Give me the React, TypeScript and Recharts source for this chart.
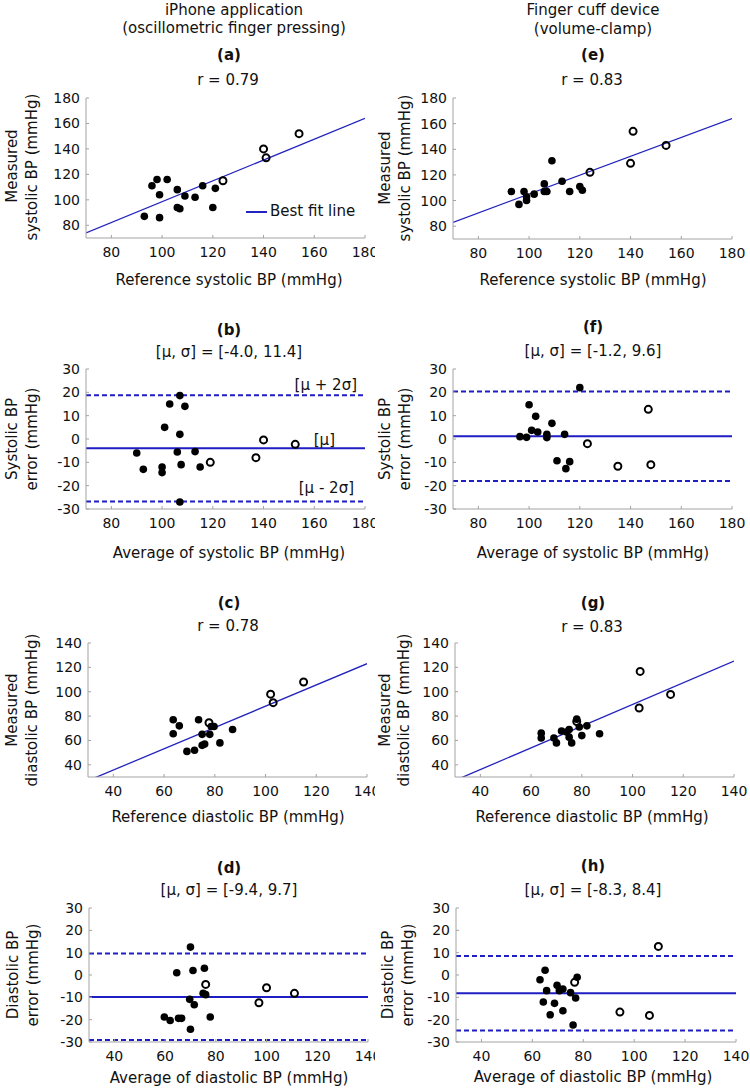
import React from "react";
import { ScatterChart, Scatter, XAxis, YAxis, ReferenceLine } from "recharts";

type Pt = [number, number];

// ---- data ----
const sysTicks = [80, 100, 120, 140, 160, 180];
const diaTicks = [40, 60, 80, 100, 120, 140];
const errTicks = [-30, -20, -10, 0, 10, 20, 30];

// (a) iPhone app, systolic: reference vs measured
const aFilled: Pt[] = [
  [93, 87], [96, 111], [98, 116], [99, 104], [99, 86], [102, 116], [106, 108],
  [106, 94], [107, 93], [109, 103], [113, 102], [116, 111], [121, 109], [120, 94],
];
const aOpen: Pt[] = [[124, 115], [140, 140], [141, 133], [154, 152]];
const aFit: Pt[] = [[70, 74], [180, 164]];

// (e) finger cuff, systolic
const eFilled: Pt[] = [
  [93, 107], [96, 97], [98, 107], [99, 103], [99, 100], [102, 105], [106, 113],
  [106, 107], [107, 107], [109, 131], [113, 115], [116, 107], [120, 111], [121, 108],
];
const eOpen: Pt[] = [[124, 122], [140, 129], [141, 154], [154, 143]];
const eFit: Pt[] = [[70, 83], [180, 164]];

// (b) iPhone app, systolic error
const bFilled: Pt[] = [
  [90, -6], [92.6, -13], [100, -12], [100, -14.4], [101, 5], [103, 15], [107, 18.6],
  [107, 2], [106, -5.6], [107.5, -11], [107, -27], [109, 14], [113, -5.4], [115, -12],
];
const bOpen: Pt[] = [[119, -10], [137, -8], [140, -0.4], [152.5, -2.3]];
const bLimits = [18.8, -4.0, -26.8];

// (f) finger cuff, systolic error
const fFilled: Pt[] = [
  [96.4, 1], [99, 0.7], [100, 14.7], [101, 3.7], [102.6, 9.7], [103.4, 3], [107, 2],
  [107, 0.6], [109, 6.7], [111, -9.3], [114, 2], [114.5, -12.7], [116, -9.7], [120, 22],
];
const fOpen: Pt[] = [[123, -2], [135, -11.7], [147, 12.7], [148, -11]];
const fLimits = [20.4, 1.2, -18];

// (c) iPhone app, diastolic
const cFilled: Pt[] = [
  [63.6, 77], [63.6, 65.5], [66, 72], [69, 51], [72, 52], [73.6, 77], [75, 65],
  [75, 56], [76, 57], [78, 65], [78.6, 71.5], [79.7, 71.5], [82, 58], [87, 69],
];
const cOpen: Pt[] = [[77.7, 74.5], [102, 98], [103, 91], [115, 108]];
const cFit: Pt[] = [[30, 27], [140, 123]];

// (g) finger cuff, diastolic
const gFilled: Pt[] = [
  [64, 66], [64, 62], [69, 62], [70, 58], [72, 67.7], [74, 67], [75, 69],
  [75, 62.7], [76, 58], [78, 77.5], [79, 71], [80, 64], [82, 72], [87, 65.5],
];
const gOpen: Pt[] = [[78, 75.6], [102.6, 86.6], [103, 116.7], [115, 97.8]];
const gFit: Pt[] = [[30, 27.2], [140, 125.2]];

// (d) iPhone app, diastolic error
const dFilled: Pt[] = [
  [59.7, -18.8], [62, -20.4], [64.6, 1], [65.3, -19.4], [66.5, -19.4], [69.7, -10.9], [70, 12.5],
  [70, -24.3], [71, 2], [71.5, -13.3], [75, -8.2], [75.5, 3], [76, -8.8], [77.8, -18.8],
];
const dOpen: Pt[] = [[76, -4.2], [97, -12.4], [100, -5.7], [111, -8.2]];
const dLimits = [9.6, -9.8, -29.1];

// (h) finger cuff, diastolic error
const hFilled: Pt[] = [
  [63, -2.1], [64.3, -12.1], [65, 2.1], [65.6, -7], [67, -17.8], [68.7, -12.7], [69.7, -4.6],
  [70.6, -7], [72, -6.3], [72, -16], [75, -7.9], [76, -22.4], [77, -10.3], [77.6, -1],
];
const hOpen: Pt[] = [[76.6, -3.3], [94.4, -16.6], [106, -18.1], [109.5, 12.8]];
const hLimits = [8.5, -8.2, -24.9];

// ---- styling ----
const FONT = "'DejaVu Sans', Verdana, sans-serif";
const BOX = "#a3a3a3";
const FIT_BLUE = "#2323bd";
const BA_BLUE = "#1e1ec4";

const toObj = (pts: Pt[]) => pts.map(([x, y]) => ({ x, y }));

const Dot = (p: any) => <circle cx={p.cx} cy={p.cy} r={3.8} fill="#000" />;
const Ring = (p: any) => (
  <circle cx={p.cx} cy={p.cy} r={3.5} fill="none" stroke="#000" strokeWidth={2} />
);

interface PanelProps {
  col: number;
  left: number;
  right: number;
  top: number;
  bottom: number;
  xDomain: [number, number];
  xTicks: number[];
  yDomain: [number, number];
  yTicks: number[];
  filled: Pt[];
  open: Pt[];
  fit?: Pt[];
  limits?: number[];
}

function Panel({ col, left, right, top, bottom, xDomain, xTicks, yDomain, yTicks, filled, open, fit, limits }: PanelProps) {
  const chartTop = top - 12;
  const height = bottom - chartTop + 30;
  const tickStyle = { fontSize: 14, fill: "#111", fontFamily: FONT };
  return (
    <div style={{ position: "absolute", left: col, top: chartTop }}>
      <ScatterChart
        width={375}
        height={height}
        margin={{ top: 12, right: col + 375 - right, bottom: 0, left: 0 }}
      >
        <XAxis
          xAxisId={0}
          type="number"
          dataKey="x"
          domain={xDomain}
          ticks={xTicks}
          interval={0}
          allowDataOverflow
          height={30}
          tick={tickStyle}
          tickSize={-3}
          tickMargin={12}
          axisLine={{ stroke: BOX }}
          tickLine={{ stroke: BOX }}
        />
        <XAxis
          xAxisId="top"
          orientation="top"
          type="number"
          domain={xDomain}
          ticks={xTicks}
          interval={0}
          height={0}
          tick={false}
          tickSize={-3}
          axisLine={{ stroke: BOX }}
          tickLine={{ stroke: BOX }}
        />
        <YAxis
          yAxisId={0}
          type="number"
          dataKey="y"
          domain={yDomain}
          ticks={yTicks}
          interval={0}
          allowDataOverflow
          width={left - col}
          tick={tickStyle}
          tickSize={-3}
          tickMargin={9}
          axisLine={{ stroke: BOX }}
          tickLine={{ stroke: BOX }}
        />
        <YAxis
          yAxisId="right"
          orientation="right"
          type="number"
          domain={yDomain}
          ticks={yTicks}
          interval={0}
          width={0}
          tick={false}
          tickSize={-3}
          axisLine={{ stroke: BOX }}
          tickLine={{ stroke: BOX }}
        />
        {fit && (
          <ReferenceLine
            segment={[{ x: fit[0][0], y: fit[0][1] }, { x: fit[1][0], y: fit[1][1] }]}
            stroke={FIT_BLUE}
            strokeWidth={1.3}
            ifOverflow="hidden"
          />
        )}
        {limits && (
          <ReferenceLine y={limits[0]} stroke={BA_BLUE} strokeWidth={2} strokeDasharray="5 3" />
        )}
        {limits && <ReferenceLine y={limits[1]} stroke={BA_BLUE} strokeWidth={2} />}
        {limits && (
          <ReferenceLine y={limits[2]} stroke={BA_BLUE} strokeWidth={2} strokeDasharray="5 3" />
        )}
        <Scatter data={toObj(filled)} shape={Dot} isAnimationActive={false} />
        <Scatter data={toObj(open)} shape={Ring} isAnimationActive={false} />
      </ScatterChart>
    </div>
  );
}

const T = ({ x, y, children, bold, rot, anchor }: any) => (
  <div
    style={{
      position: "absolute",
      left: x,
      top: y,
      transform:
        anchor === "end"
          ? "translate(-100%, -50%)"
          : `translate(-50%, -50%)${rot ? " rotate(-90deg)" : ""}`,
      whiteSpace: "nowrap",
      fontWeight: bold ? 700 : 400,
      fontSize: 15,
      lineHeight: 1,
      color: "#111",
    }}
  >
    {children}
  </div>
);

export default function App() {
  return (
    <div
      style={{
        position: "absolute",
        left: 0,
        top: 0,
        width: 750,
        height: 1090,
        background: "#fff",
        fontFamily: FONT,
        overflow: "hidden",
      }}
    >
      {/* column headers */}
      <T x={234} y={10}>iPhone application</T>
      <T x={234} y={28}>(oscillometric finger pressing)</T>
      <T x={593} y={10}>Finger cuff device</T>
      <T x={593} y={29}>(volume-clamp)</T>

      {/* (a) */}
      <T x={229} y={55} bold>(a)</T>
      <T x={228} y={80}>r = 0.79</T>
      <T x={12} y={166} rot>Measured</T>
      <T x={32} y={167} rot>systolic BP (mmHg)</T>
      <T x={229} y={280}>Reference systolic BP (mmHg)</T>
      <Panel col={0} left={86} right={365} top={98} bottom={238} xDomain={[70, 180]} xTicks={sysTicks}
        yDomain={[70, 180]} yTicks={sysTicks} filled={aFilled} open={aOpen} fit={aFit} />
      <div style={{ position: "absolute", left: 246, top: 211, width: 21, height: 2, background: FIT_BLUE }} />
      <div style={{ position: "absolute", left: 270, top: 203, fontSize: 15, lineHeight: "17px", color: "#111", whiteSpace: "nowrap" }}>
        Best fit line
      </div>

      {/* (e) */}
      <T x={593} y={55} bold>(e)</T>
      <T x={592} y={80}>r = 0.83</T>
      <T x={385} y={168} rot>Measured</T>
      <T x={405} y={168} rot>systolic BP (mmHg)</T>
      <T x={593} y={280}>Reference systolic BP (mmHg)</T>
      <Panel col={375} left={453} right={732} top={98} bottom={239} xDomain={[70, 180]} xTicks={sysTicks}
        yDomain={[70, 180]} yTicks={sysTicks} filled={eFilled} open={eOpen} fit={eFit} />

      {/* (b) */}
      <T x={229} y={330} bold>(b)</T>
      <T x={229} y={352}>[μ, σ] = [-4.0, 11.4]</T>
      <T x={12} y={439} rot>Systolic BP</T>
      <T x={32} y={439} rot>error (mmHg)</T>
      <T x={229} y={553}>Average of systolic BP (mmHg)</T>
      <Panel col={0} left={86} right={365} top={369} bottom={509} xDomain={[70, 180]} xTicks={sysTicks}
        yDomain={[-30, 30]} yTicks={errTicks} filled={bFilled} open={bOpen} limits={bLimits} />
      <T x={357} y={385} anchor="end">[μ + 2σ]</T>
      <T x={335} y={440} anchor="end">[μ]</T>
      <T x={354} y={488} anchor="end">[μ - 2σ]</T>

      {/* (f) */}
      <T x={593} y={327} bold>(f)</T>
      <T x={593} y={351}>[μ, σ] = [-1.2, 9.6]</T>
      <T x={385} y={439} rot>Systolic BP</T>
      <T x={405} y={439} rot>error (mmHg)</T>
      <T x={593} y={553}>Average of systolic BP (mmHg)</T>
      <Panel col={375} left={453} right={732} top={369} bottom={509} xDomain={[70, 180]} xTicks={sysTicks}
        yDomain={[-30, 30]} yTicks={errTicks} filled={fFilled} open={fOpen} limits={fLimits} />

      {/* (c) */}
      <T x={229} y={603} bold>(c)</T>
      <T x={228} y={626}>r = 0.78</T>
      <T x={12} y={710} rot>Measured</T>
      <T x={32} y={710} rot>diastolic BP (mmHg)</T>
      <T x={228} y={817}>Reference diastolic BP (mmHg)</T>
      <Panel col={0} left={88} right={367} top={643} bottom={777} xDomain={[30, 140]} xTicks={diaTicks}
        yDomain={[30, 140]} yTicks={diaTicks} filled={cFilled} open={cOpen} fit={cFit} />

      {/* (g) */}
      <T x={593} y={603} bold>(g)</T>
      <T x={592} y={627}>r = 0.83</T>
      <T x={385} y={710} rot>Measured</T>
      <T x={404} y={710} rot>diastolic BP (mmHg)</T>
      <T x={592} y={817}>Reference diastolic BP (mmHg)</T>
      <Panel col={375} left={455} right={734} top={643} bottom={777} xDomain={[30, 140]} xTicks={diaTicks}
        yDomain={[30, 140]} yTicks={diaTicks} filled={gFilled} open={gOpen} fit={gFit} />

      {/* (d) */}
      <T x={229} y={868} bold>(d)</T>
      <T x={229} y={890}>[μ, σ] = [-9.4, 9.7]</T>
      <T x={13} y={975} rot>Diastolic BP</T>
      <T x={33} y={975} rot>error (mmHg)</T>
      <T x={229} y={1078}>Average of diastolic BP (mmHg)</T>
      <Panel col={0} left={89} right={368} top={908} bottom={1042} xDomain={[30, 140]} xTicks={diaTicks}
        yDomain={[-30, 30]} yTicks={errTicks} filled={dFilled} open={dOpen} limits={dLimits} />

      {/* (h) */}
      <T x={593} y={866} bold>(h)</T>
      <T x={593} y={890}>[μ, σ] = [-8.3, 8.4]</T>
      <T x={388} y={975} rot>Diastolic BP</T>
      <T x={408} y={975} rot>error (mmHg)</T>
      <T x={593} y={1077}>Average of diastolic BP (mmHg)</T>
      <Panel col={375} left={456} right={736} top={908} bottom={1042} xDomain={[30, 140]} xTicks={diaTicks}
        yDomain={[-30, 30]} yTicks={errTicks} filled={hFilled} open={hOpen} limits={hLimits} />
    </div>
  );
}
